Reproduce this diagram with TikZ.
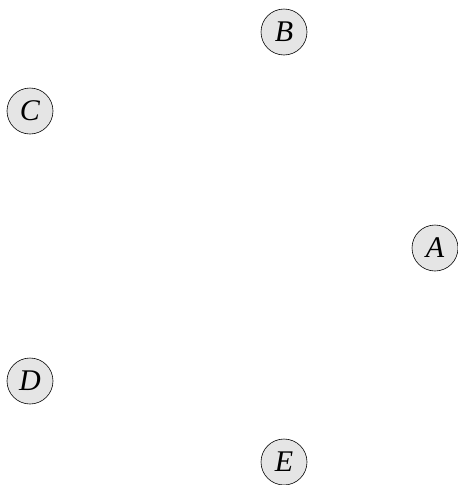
\documentclass[tikz,border=0pt]{standalone}
\usepackage{fontspec}
\setmainfont{Liberation Serif}
\newfontfamily\vfont{Liberation Serif}
\begin{document}
\begin{tikzpicture}[x=1pt,y=-1pt,
  vtx/.style={circle,draw=black,line width=0.6pt,fill=gray!20,minimum size=46pt,inner sep=0pt,font=\vfont\itshape\fontsize{30}{32}\selectfont}]
\useasboundingbox (0,0) rectangle (458,485);
\node[vtx] (A) at (435,248) {A};
\node[vtx] (B) at (284,32) {B};
\node[vtx] (C) at (30,111) {C};
\node[vtx] (D) at (30,381) {D};
\node[vtx] (E) at (284,462) {E};
\end{tikzpicture}
\end{document}
